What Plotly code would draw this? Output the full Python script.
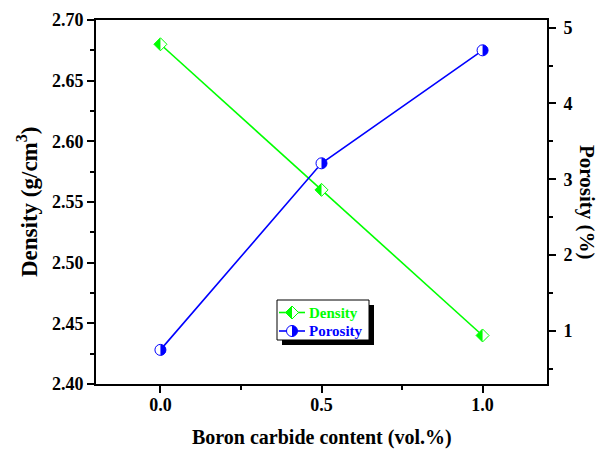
import plotly.graph_objects as go

# ---- data ----
boron_content = [0.0, 0.5, 1.0]
density = [2.68, 2.56, 2.44]
porosity = [0.75, 3.21, 4.70]

x_ticks = [0.0, 0.5, 1.0]
x_ticklabels = ["0.0", "0.5", "1.0"]
y1_ticks = [2.40, 2.45, 2.50, 2.55, 2.60, 2.65, 2.70]
y1_ticklabels = ["2.40", "2.45", "2.50", "2.55", "2.60", "2.65", "2.70"]
y2_ticks = [1, 2, 3, 4, 5]
y2_ticklabels = ["1", "2", "3", "4", "5"]
series_names = ["Density", "Porosity"]

GREEN = "#00ff00"
BLUE = "#0000ff"
FONT = "Liberation Serif"

fig = go.Figure()

fig.add_trace(go.Scatter(
    x=boron_content, y=density, mode="lines+markers", name=series_names[0], showlegend=False,
    line=dict(color=GREEN, width=1.6),
    marker=dict(symbol="diamond", size=10, color="white", line=dict(color=GREEN, width=1)),
    yaxis="y"))
fig.add_trace(go.Scatter(
    x=boron_content, y=porosity, mode="lines+markers", name=series_names[1], showlegend=False,
    line=dict(color=BLUE, width=1.6),
    marker=dict(symbol="circle", size=11, color="white", line=dict(color=BLUE, width=1)),
    yaxis="y2"))

# glyph paths (pixels, relative to anchor)
D = 6.5
R = 5.5
k = 0.5523 * R
diamond_full = "M-{d},0 L0,{d} L{d},0 L0,-{d} Z".format(d=D)
half_diamond = "M-{d},0 L0,{d} L0,-{d} Z".format(d=D)
circle_full = ("M0,{R} C{k},{R} {R},{k} {R},0 C{R},-{k} {k},-{R} 0,-{R} "
               "C-{k},-{R} -{R},-{k} -{R},0 C-{R},{k} -{k},{R} 0,{R} Z").format(R=R, k=k)
half_circle = "M0,{R} C{k},{R} {R},{k} {R},0 C{R},-{k} {k},-{R} 0,-{R} Z".format(R=R, k=k)

shapes = []
for xv, yv in zip(boron_content, density):
    shapes.append(dict(type="path", path=half_diamond, xref="x", yref="y",
                       xsizemode="pixel", ysizemode="pixel", xanchor=xv, yanchor=yv,
                       fillcolor=GREEN, line=dict(width=0), layer="above"))
for xv, yv in zip(boron_content, porosity):
    shapes.append(dict(type="path", path=half_circle, xref="x", yref="y2",
                       xsizemode="pixel", ysizemode="pixel", xanchor=xv, yanchor=yv,
                       fillcolor=BLUE, line=dict(width=0), layer="above"))

# ---- custom legend (box with drop shadow) ----
def px_x(p):
    return (p - 96) / 451.0

def px_y(p):
    return (384 - p) / 364.0

shapes.append(dict(type="rect", xref="paper", yref="paper",
                   x0=px_x(282), x1=px_x(374), y0=px_y(345), y1=px_y(305),
                   fillcolor="black", line=dict(width=0), layer="above"))
shapes.append(dict(type="rect", xref="paper", yref="paper",
                   x0=px_x(277), x1=px_x(369), y0=px_y(340), y1=px_y(300),
                   fillcolor="white", line=dict(color="black", width=1), layer="above"))
annotations = []
for name, color, row, full, half in [
        (series_names[0], GREEN, 312.5, diamond_full, half_diamond),
        (series_names[1], BLUE, 331, circle_full, half_circle)]:
    shapes.append(dict(type="line", xref="paper", yref="paper",
                       x0=px_x(279), x1=px_x(305), y0=px_y(row), y1=px_y(row),
                       line=dict(color=color, width=1.6), layer="above"))
    shapes.append(dict(type="path", path=full, xref="paper", yref="paper",
                       xsizemode="pixel", ysizemode="pixel", xanchor=px_x(292), yanchor=px_y(row),
                       fillcolor="white", line=dict(color=color, width=1), layer="above"))
    shapes.append(dict(type="path", path=half, xref="paper", yref="paper",
                       xsizemode="pixel", ysizemode="pixel", xanchor=px_x(292), yanchor=px_y(row),
                       fillcolor=color, line=dict(width=0), layer="above"))
    annotations.append(dict(text="<b>%s</b>" % name, xref="paper", yref="paper",
                            x=px_x(307), y=px_y(row), xanchor="left", yanchor="middle",
                            showarrow=False, font=dict(family=FONT, size=15, color=color)))

annotations.append(dict(text="<b>Porosity (%)</b>", xref="paper", yref="paper",
                        x=px_x(587), y=0.5, textangle=90, showarrow=False,
                        font=dict(family=FONT, size=21, color="black"),
                        xanchor="center", yanchor="middle"))
annotations.append(dict(text="<b>Density (g/cm<sup>3</sup>)</b>", xref="paper", yref="paper",
                        x=px_x(27), y=px_y(202), textangle=-90, showarrow=False,
                        font=dict(family=FONT, size=23, color="black"),
                        xanchor="center", yanchor="middle"))
annotations.append(dict(text="<b>Boron carbide content (vol.%)</b>", xref="paper", yref="paper",
                        x=px_x(322), y=px_y(437), showarrow=False,
                        font=dict(family=FONT, size=20, color="black"),
                        xanchor="center", yanchor="middle"))

tickfont = dict(family=FONT, size=18, color="black")

fig.update_layout(
    width=598, height=450,
    margin=dict(l=96, r=51, t=20, b=66, autoexpand=False),
    paper_bgcolor="white", plot_bgcolor="white",
    font=dict(family=FONT, color="black"),
    shapes=shapes, annotations=annotations, showlegend=False,
    xaxis=dict(range=[-0.2, 1.2], tickvals=x_ticks, ticktext=["<b>%s</b>" % t for t in x_ticklabels],
               ticks="outside", ticklen=7, tickwidth=1.5, tickcolor="black", automargin=False,
               ticklabelstandoff=-4,
               minor=dict(tickvals=[0.25, 0.75], ticks="outside", ticklen=4, tickwidth=1.5, tickcolor="black"),
               showline=True, linecolor="black", linewidth=2, mirror=True,
               showgrid=False, zeroline=False, tickfont=tickfont),
    yaxis=dict(range=[2.40, 2.70], tickvals=y1_ticks, ticktext=["<b>%s</b>" % t for t in y1_ticklabels],
               ticks="outside", ticklen=7, tickwidth=1.5, tickcolor="black", automargin=False,
               minor=dict(dtick=0.025, tick0=2.425, ticks="outside", ticklen=4, tickwidth=1.5, tickcolor="black"),
               showline=True, linecolor="black", linewidth=2,
               showgrid=False, zeroline=False, tickfont=tickfont),
    yaxis2=dict(range=[0.3, 5.1], tickvals=y2_ticks, ticktext=["<b>%s</b>" % t for t in y2_ticklabels],
                overlaying="y", side="right", automargin=False, ticklabelstandoff=4,
                ticks="outside", ticklen=7, tickwidth=1.5, tickcolor="black",
                minor=dict(dtick=0.5, tick0=0.5, ticks="outside", ticklen=4, tickwidth=1.5, tickcolor="black"),
                showline=True, linecolor="black", linewidth=2,
                showgrid=False, zeroline=False, tickfont=tickfont),
)

fig.write_html("out.html")
